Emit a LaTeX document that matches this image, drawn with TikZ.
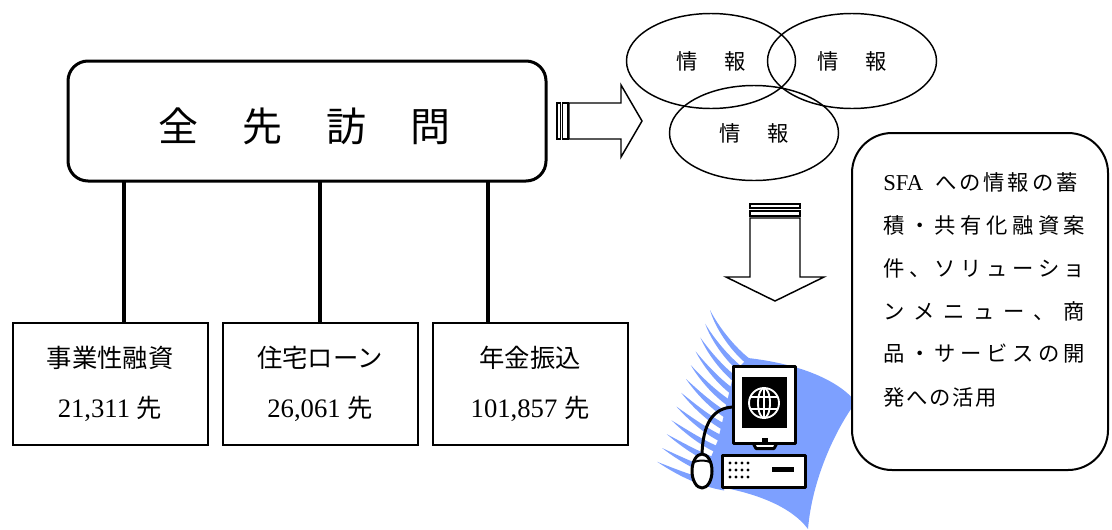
\documentclass[tikz,border=0pt]{standalone}
\usepackage{fontspec}
\setmainfont{Liberation Serif}
\newfontfamily\cjk{Noto Sans CJK JP}
\usetikzlibrary{shapes.geometric}
\definecolor{swoosh}{RGB}{125,160,255}

\tikzset{
  mainbox/.style={draw, line width=2.25pt, rounded corners=15pt, minimum width=358.5pt, minimum height=90pt, inner sep=0},
  leafbox/.style={draw, line width=1.5pt, minimum width=146.25pt, minimum height=91.5pt, align=center, inner sep=0,
                  font=\fontsize{19}{38}\selectfont},
  infoell/.style={draw, ellipse, line width=1.1pt, minimum width=126.75pt, minimum height=71.25pt, inner sep=0,
                  font=\fontsize{16}{16}\selectfont\cjk},
  notebox/.style={draw, fill=white, line width=1.5pt, rounded corners=30pt, minimum width=192pt, minimum height=252.75pt, inner sep=0},
  noteline/.style={anchor=west, inner sep=0, font=\fontsize{16}{16}\selectfont\cjk},
  link/.style={line width=3pt},
  blockarrow/.style={draw, line width=1.1pt, fill=white, line join=miter},
  streak/.style={fill=swoosh},
  pcline/.style={line width=2.25pt, line join=round},
}
\newcommand\infotext{\makebox[52pt][s]{情\hfil 報}}

\begin{document}
\begin{tikzpicture}[x=0.75pt,y=-0.75pt]
\useasboundingbox (0,0) rectangle (1112,529);

% top box and its three branches
\node[mainbox] (main) at (307,121) {};
\node[inner sep=0, font=\fontsize{30}{30}\selectfont\cjk] (title) at (304,126)
  {\makebox[219pt][s]{全\hfil 先\hfil 訪\hfil 問}};

\node[leafbox] (b1) at (110,384) {{\cjk 事業性融資}\\{\fontsize{20}{38}\selectfont 21,311 }{\cjk 先}};
\node[leafbox] (b2) at (320,384) {{\cjk 住宅ローン}\\{\fontsize{20}{38}\selectfont 26,061 }{\cjk 先}};
\node[leafbox] (b3) at (530,384) {{\cjk 年金振込}\\{\fontsize{20}{38}\selectfont 101,857 }{\cjk 先}};

\coordinate (t1) at (124,181);
\coordinate (t2) at (320,181);
\coordinate (t3) at (488,181);
\draw[link] (t1) -- (t1 |- b1.north);
\draw[link] (t2) -- (t2 |- b2.north);
\draw[link] (t3) -- (t3 |- b3.north);

% striped block arrow to the right
\draw[blockarrow] (557,103) rectangle (560.5,139);
\draw[blockarrow] (562.5,103) rectangle (568,139);
\draw[blockarrow] (569,103) -- (621,103) -- (621,85) -- (642,121) -- (621,157) -- (621,139) -- (569,139) -- cycle;

% overlapping information ellipses
\node[infoell] (i1) at (711,61) {\infotext};
\node[infoell] (i2) at (852,61) {\infotext};
\node[infoell] (i3) at (754,133) {\infotext};

% striped block arrow downwards
\draw[blockarrow] (750,204) rectangle (800,208);
\draw[blockarrow] (750,211) rectangle (800,216);
\draw[blockarrow] (750,218) -- (800,218) -- (800,277) -- (824,277) -- (775,301) -- (726,277) -- (750,277) -- cycle;

% computer clip art: blue swoosh with tapered streaks
\fill[swoosh] (748,358) .. controls (800,364) and (838,380) .. (856,402)
  .. controls (835,430) and (812,480) .. (808,529)
  .. controls (790,505) and (750,490) .. (700,484) -- (718,440) -- (734,372) -- cycle;
\foreach \i in {0,...,11}{
  \fill[streak] ({710-4.8*\i},{310+13.8*\i})
    .. controls ({720-3.4*\i},{330+12.9*\i}) and ({747-4*\i},{364+10.5*\i})
    .. ({768-4*\i},{368+10.5*\i})
    -- ({768-4*\i},{375+10.5*\i})
    .. controls ({745-4*\i},{371+10.5*\i}) and ({717-3.4*\i},{335+12.9*\i})
    .. ({710-4.8*\i},{310+13.8*\i}) -- cycle;
}
% cable and mouse
\draw[pcline] (702,454) .. controls (703,425) and (712,408) .. (733,407);
\draw[pcline, fill=white] (702,471) ellipse [x radius=7.5pt, y radius=12.75pt];
\draw[line width=1.5pt] (694,462) .. controls (699,460) and (705,460) .. (710,462);
% monitor
\draw[pcline, fill=white] (753,443) -- (756,448.5) -- (774,448.5) -- (777,443) -- cycle;
\draw[pcline, fill=white] (733,366) rectangle (795,443);
\fill (742,377) rectangle (787,428);
\fill (762,438) rectangle (768,442);
\begin{scope}[white, line width=1.4pt]
  \draw (764,403) circle [radius=11.25pt];
  \draw (764,403) ellipse [x radius=4.5pt, y radius=11.25pt];
  \draw (764,388) -- (764,418);
  \draw (750.5,397) -- (777.5,397);
  \draw (750.5,409) -- (777.5,409);
\end{scope}
% system unit
\draw[pcline, fill=white] (722,455) rectangle (805,487);
\foreach \cx in {730,736,742,748}{
  \foreach \cy in {463,470,477}{
    \fill (\cx,\cy) circle [radius=1.2pt];
  }
}
\fill (772,467) rectangle (794,472);

% note box on the right
\node[notebox] (note) at (980,301.5) {};
\node[noteline] (n1) at (883,182) {{\rmfamily\fontsize{17}{17}\selectfont SFA}\hspace{9pt}\makebox[107pt][s]{へ\hfil の\hfil 情\hfil 報\hfil の\hfil 蓄}};
\node[noteline] (n2) at (883,225) {\makebox[151.5pt][s]{積\hfil ・\hfil 共\hfil 有\hfil 化\hfil 融\hfil 資\hfil 案}};
\node[noteline] (n3) at (883,268) {\makebox[151.5pt][s]{件\hfil 、\hfil ソ\hfil リ\hfil ュ\hfil ー\hfil シ\hfil ョ}};
\node[noteline] (n4) at (883,311) {\makebox[151.5pt][s]{ン\hfil メ\hfil ニ\hfil ュ\hfil ー\hfil 、\hfil 商}};
\node[noteline] (n5) at (883,354) {\makebox[151.5pt][s]{品\hfil ・\hfil サ\hfil ー\hfil ビ\hfil ス\hfil の\hfil 開}};
\node[noteline] (n6) at (883,397) {\makebox[85.5pt][s]{発\hfil へ\hfil の\hfil 活\hfil 用}};

\end{tikzpicture}
\end{document}
